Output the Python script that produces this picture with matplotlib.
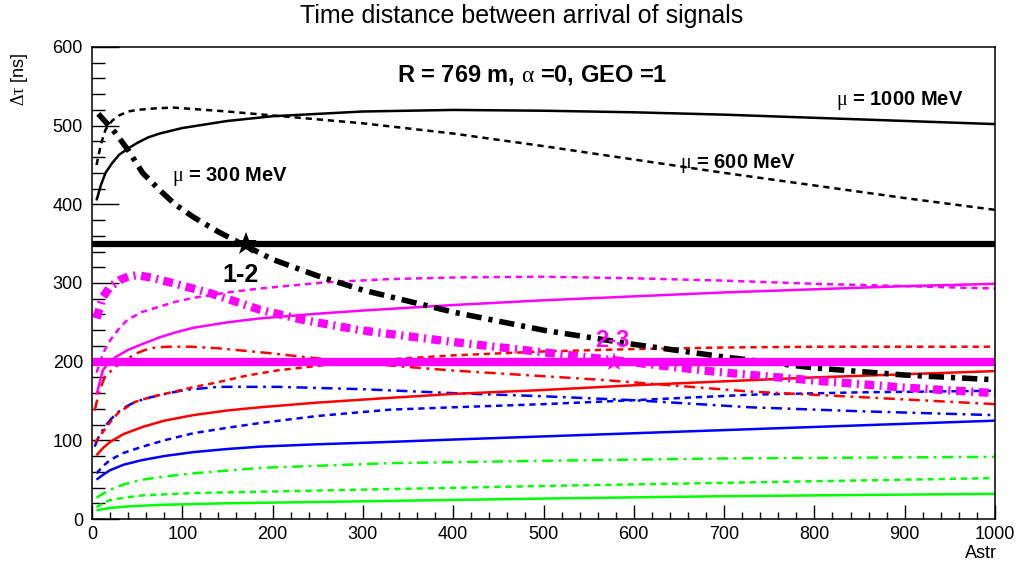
import matplotlib
matplotlib.use("Agg")
import matplotlib.pyplot as plt
from matplotlib.ticker import MultipleLocator

plt.rcParams['font.family'] = ['Liberation Sans', 'DejaVu Sans']
plt.rcParams['mathtext.fontset'] = 'custom'
plt.rcParams['mathtext.rm'] = 'Liberation Serif'
plt.rcParams['mathtext.it'] = 'Liberation Serif'
plt.rcParams['lines.scale_dashes'] = False

# --- curves: Astr vs delta tau [ns] ---
# black (1-2)
blk_sol_x = [5, 10, 15, 22, 30, 40, 50, 62, 75, 100, 150, 200, 300, 400, 500, 600, 700, 800, 900, 1000]
blk_sol_y = [405, 425, 440, 452, 463, 471, 478, 485, 490, 497, 506, 512, 518, 520, 519, 517, 514, 510, 506, 502]
blk_dsh_x = [5, 10, 15, 22, 30, 40, 50, 70, 90, 150, 200, 300, 400, 500, 600, 700, 800, 900, 1000]
blk_dsh_y = [450, 477, 495, 506, 513, 518, 520, 522, 523, 518, 513, 503, 490, 474, 457, 440, 424, 408, 393]
blk_dd_x = [7, 25, 40, 56, 75, 92, 112, 140, 167, 200, 250, 300, 400, 500, 600, 700, 800, 900, 1000]
blk_dd_y = [515, 492, 469, 440, 418, 400, 384, 365, 349, 330, 309, 291, 263, 240, 222, 206, 192, 183, 177]

# magenta (2-3)
mag_sol_x = [5, 12, 18, 25, 40, 55, 75, 92, 112, 150, 186, 250, 300, 400, 500, 600, 700, 800, 900, 1000]
mag_sol_y = [158, 189, 198, 205, 215, 222, 231, 237, 243, 250, 255, 261, 265, 272, 278, 283, 288, 292, 296, 299]
mag_dsh_x = [5, 12, 20, 30, 39, 55, 75, 92, 112, 150, 186, 260, 330, 400, 500, 600, 700, 800, 900, 1000]
mag_dsh_y = [186, 210, 227, 242, 253, 263, 270, 276, 281, 288, 293, 301, 305, 307, 308, 306, 303, 299, 296, 293]
mag_dd_x = [5, 12, 20, 31, 40, 50, 65, 86, 131, 186, 234, 297, 400, 507, 600, 692, 800, 900, 1000]
mag_dd_y = [255, 282, 295, 304, 308, 310, 307, 301, 287, 266, 253, 240, 225, 211, 199, 187, 176, 167, 160]

# red
red_sol_x = [5, 12, 20, 35, 56, 80, 112, 150, 186, 250, 330, 400, 500, 600, 700, 800, 900, 1000]
red_sol_y = [81, 90, 98, 108, 117, 125, 132, 138, 142, 148, 154, 159, 164, 170, 175, 180, 184, 188]
red_dsh_x = [3, 11, 20, 29, 48, 65, 84, 110, 140, 170, 206, 260, 330, 400, 500, 600, 700, 800, 900, 1000]
red_dsh_y = [97, 109, 123, 135, 149, 155, 160, 167, 174, 182, 189, 196, 203, 208, 213, 216, 218, 219, 219, 219]
red_dd_x = [3, 8, 14, 25, 37, 48, 59, 70, 84, 110, 140, 195, 300, 396, 563, 729, 850, 1000]
red_dd_y = [138, 162, 180, 193, 202, 210, 215, 218, 219, 219, 217, 211, 198, 189, 177, 162, 155, 146]

# blue
blu_sol_x = [5, 12, 20, 35, 56, 80, 112, 150, 186, 250, 330, 400, 500, 600, 700, 800, 900, 1000]
blu_sol_y = [50, 56, 62, 69, 75, 80, 85, 89, 92, 95, 98, 101, 105, 109, 113, 117, 121, 125]
blu_dsh_x = [5, 12, 20, 35, 56, 80, 112, 150, 186, 250, 330, 400, 500, 600, 729, 850, 1000]
blu_dsh_y = [58, 67, 75, 84, 92, 100, 109, 116, 122, 131, 139, 142, 146, 151, 158, 161, 163]
blu_dd_x = [3, 8, 14, 21, 29, 38, 48, 66, 85, 103, 140, 206, 300, 400, 500, 600, 729, 850, 1000]
blu_dd_y = [92, 106, 117, 127, 136, 143, 149, 155, 160, 164, 168, 168, 165, 160, 156, 151, 142, 137, 132]

# green
grn_sol_x = [5, 20, 40, 75, 150, 330, 500, 700, 1000]
grn_sol_y = [11, 14, 16, 18, 20, 23, 26, 29, 32]
grn_dsh_x = [5, 12, 20, 35, 56, 112, 200, 330, 500, 700, 1000]
grn_dsh_y = [15, 20, 24, 27, 30, 33, 35, 38, 42, 46, 52]
grn_dd_x = [5, 12, 20, 35, 56, 80, 112, 186, 330, 500, 700, 1000]
grn_dd_y = [27, 32, 37, 44, 50, 54, 58, 65, 71, 74, 77, 79]

# crossing levels and marked points
lvl_12, star_12 = 350, (170, 350)
lvl_23, star_23 = 200, (578, 200)

DASH = (0, (4.5, 3.5))
DDOT = (0, (8, 4, 2, 4))

fig = plt.figure(figsize=(10.29, 5.68), dpi=100)
ax = fig.add_axes([92 / 1029, 1 - 519 / 568, 903 / 1029, 472 / 568])

def curve(x, y, c, ls, lw=1.8):
    ax.plot(x, y, color=c, linestyle=ls, linewidth=lw, solid_capstyle='butt',
            solid_joinstyle='round')

for c, sets in [('#00ff00', [(grn_sol_x, grn_sol_y), (grn_dsh_x, grn_dsh_y), (grn_dd_x, grn_dd_y)]),
                ('#0000ff', [(blu_sol_x, blu_sol_y), (blu_dsh_x, blu_dsh_y), (blu_dd_x, blu_dd_y)]),
                ('#ff0000', [(red_sol_x, red_sol_y), (red_dsh_x, red_dsh_y), (red_dd_x, red_dd_y)])]:
    curve(*sets[0], c, '-')
    curve(*sets[1], c, DASH)
    curve(*sets[2], c, DDOT)

curve(mag_sol_x, mag_sol_y, '#ff00ff', '-')
curve(mag_dsh_x, mag_dsh_y, '#ff00ff', DASH)
curve(mag_dd_x, mag_dd_y, '#ff00ff', (0, (7, 4, 1.5, 4)), lw=6)
curve(blk_sol_x, blk_sol_y, 'black', '-')
curve(blk_dsh_x, blk_dsh_y, 'black', DASH)
curve(blk_dd_x, blk_dd_y, 'black', (0, (11, 5, 3, 5)), lw=4)

# thresholds
ax.plot([0, 1000], [lvl_23, lvl_23], color='#ff00ff', linewidth=6, solid_capstyle='butt')
ax.plot([0, 1000], [lvl_12, lvl_12], color='black', linewidth=4.5, solid_capstyle='butt')
ax.plot(*star_12, marker='*', color='black', markersize=17, markeredgewidth=0, zorder=5)
ax.plot(*star_23, marker='*', color='#ff00ff', markersize=15, markeredgewidth=0, zorder=5)

ax.text(164, 310, '1-2', fontsize=18, fontweight='bold', ha='center', va='center', zorder=6)
ax.text(576, 227, '2-3', fontsize=17, fontweight='bold', color='#ff00ff',
        ha='center', va='center', zorder=6)

ax.text(487, 564, r'R = 769 m, $\alpha$ =0, GEO =1', fontsize=17, fontweight='bold',
        ha='center', va='center')
ax.text(824, 532, r'$\mu$ = 1000 MeV', fontsize=14.5, fontweight='bold', va='center')
ax.text(651, 452, r'$\mu$ = 600 MeV', fontsize=14.5, fontweight='bold', va='center')
ax.text(89, 435, r'$\mu$ = 300 MeV', fontsize=14.5, fontweight='bold', va='center')

ax.set_xlim(0, 1000)
ax.set_ylim(0, 600)
ax.xaxis.set_major_locator(MultipleLocator(100))
ax.xaxis.set_minor_locator(MultipleLocator(20))
ax.yaxis.set_major_locator(MultipleLocator(100))
ax.yaxis.set_minor_locator(MultipleLocator(20))
ax.tick_params(axis='both', which='both', direction='in', top=False, right=False,
               labelsize=13, width=1.0)
ax.tick_params(axis='x', which='major', length=10, pad=5)
ax.tick_params(axis='x', which='minor', length=5)
ax.tick_params(axis='y', which='major', length=19.5, pad=6.5)
ax.tick_params(axis='y', which='minor', length=9.7)
for s in ax.spines.values():
    s.set_linewidth(1.1)

fig.text(522 / 1029, 1 - 16 / 568, 'Time distance between arrival of signals',
         fontsize=18, ha='center', va='center')
fig.text(20 / 1029, 1 - 52 / 568, r'$\Delta\tau$ [ns]', fontsize=13, rotation=90,
         ha='center', va='top')
fig.text(997 / 1029, 1 - 553 / 568, 'Astr', fontsize=13, ha='right', va='center')

fig.savefig('out.png', dpi=100)
